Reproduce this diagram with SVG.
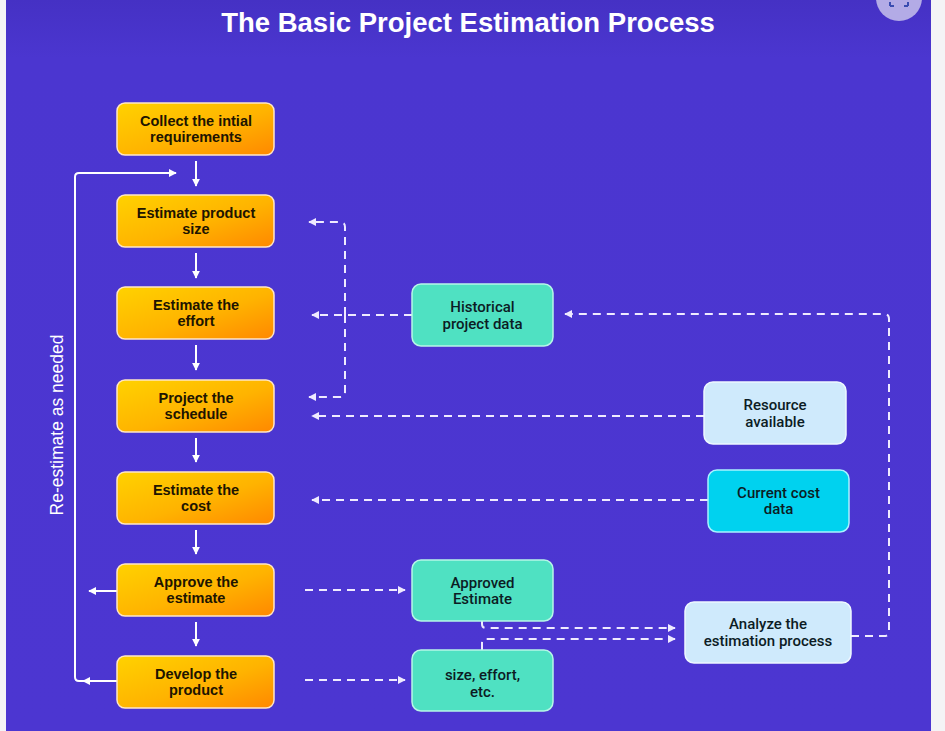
<svg xmlns="http://www.w3.org/2000/svg" width="945" height="731" viewBox="0 0 945 731">
<defs>
<linearGradient id="bg" x1="0" y1="0" x2="0" y2="1">
<stop offset="0" stop-color="#4531c4"/>
<stop offset="0.08" stop-color="#4b36d0"/>
<stop offset="1" stop-color="#4c36d1"/>
</linearGradient>
<linearGradient id="org" x1="0" y1="0" x2="1" y2="1">
<stop offset="0" stop-color="#ffd200"/>
<stop offset="0.55" stop-color="#ffb300"/>
<stop offset="1" stop-color="#ff8800"/>
</linearGradient>
<marker id="sa" viewBox="0 0 10 10" refX="9" refY="5" markerWidth="8" markerHeight="8" markerUnits="userSpaceOnUse" orient="auto">
<path d="M0,0 L10,5 L0,10 Z" fill="#ffffff"/>
</marker>
<marker id="da" viewBox="0 0 10 10" refX="9" refY="5" markerWidth="8" markerHeight="8" markerUnits="userSpaceOnUse" orient="auto">
<path d="M0,0 L10,5 L0,10 Z" fill="#efeaff"/>
</marker>
<style>
.ob{fill:url(#org);stroke:#ffe6c6;stroke-width:1.5}
.gb{fill:#4fe1c2;stroke:#b6f6e7;stroke-width:1.5}
.lb{fill:#cfeafc;stroke:#eef8ff;stroke-width:1.5}
.cb{fill:#00d2ef;stroke:#a8f2ff;stroke-width:1.5}
.ot{font-family:"Liberation Sans",Arial,sans-serif;font-weight:bold;font-size:14.5px;fill:#201400;text-anchor:middle}
.rt{font-family:Roboto,"Liberation Sans",sans-serif;font-weight:500;font-size:15px;fill:#0c1c24;text-anchor:middle}
.sl{fill:none;stroke:#ffffff;stroke-width:2}
.dl{fill:none;stroke:#efeaff;stroke-width:2;stroke-dasharray:8 6}
</style>
</defs>
<rect x="0" y="0" width="945" height="731" fill="#f4f4f6"/>
<rect x="6" y="0" width="925" height="731" fill="url(#bg)"/>
<g id="corner-button">
<circle cx="899" cy="-2" r="23" fill="#b3abe6"/>
<path d="M890,6 v-4 M890,6 h4 M908,6 v-4 M908,6 h-4" stroke="#3a4cb0" stroke-width="2" fill="none"/>
</g>
<text x="468" y="32" font-family="'Liberation Sans',Arial,sans-serif" font-weight="bold" font-size="27.5" fill="#ffffff" text-anchor="middle">The Basic Project Estimation Process</text>
<text transform="translate(63,425) rotate(-90)" font-family="'Liberation Sans',Arial,sans-serif" font-size="17.5" fill="#ffffff" text-anchor="middle">Re-estimate as needed</text>

<g id="connectors">
<path class="sl" d="M196,161 V186" marker-end="url(#sa)"/>
<path class="sl" d="M196,253 V278" marker-end="url(#sa)"/>
<path class="sl" d="M196,345 V370" marker-end="url(#sa)"/>
<path class="sl" d="M196,438 V462" marker-end="url(#sa)"/>
<path class="sl" d="M196,530 V554" marker-end="url(#sa)"/>
<path class="sl" d="M196,622 V646" marker-end="url(#sa)"/>
<path class="sl" d="M117,591 H89" marker-end="url(#sa)"/>
<path class="sl" d="M117,681 H83" marker-end="url(#sa)"/>
<path class="sl" d="M84,681 H79 Q75,681 75,677 V177 Q75,173 79,173 H176" marker-end="url(#sa)"/>
<path class="dl" d="M412,315 H312" marker-end="url(#da)"/>
<path class="dl" d="M345,315 V227 Q345,222 340,222 H309" marker-end="url(#da)"/>
<path class="dl" d="M345,315 V392 Q345,397 340,397 H309" marker-end="url(#da)"/>
<path class="dl" d="M704,416 H312" marker-end="url(#da)"/>
<path class="dl" d="M708,500 H312" marker-end="url(#da)"/>
<path class="dl" d="M851,636 H884 Q889,636 889,631 V319 Q889,314 884,314 H565" marker-end="url(#da)"/>
<path class="dl" d="M305,590 H405" marker-end="url(#da)"/>
<path class="dl" d="M305,680 H405" marker-end="url(#da)"/>
<path class="dl" d="M482,621 V624 Q482,628 486,628 H675" marker-end="url(#da)"/>
<path class="dl" d="M482,650 V643 Q482,639 486,639 H675" marker-end="url(#da)"/>
</g>

<g id="n1"><rect class="ob" x="117" y="103" width="157" height="52" rx="8"/><text class="ot" x="196" y="125.5">Collect the intial</text><text class="ot" x="196" y="141.5">requirements</text></g>
<g id="n2"><rect class="ob" x="117" y="195" width="157" height="52" rx="8"/><text class="ot" x="196" y="217.5">Estimate product</text><text class="ot" x="196" y="233.5">size</text></g>
<g id="n3"><rect class="ob" x="117" y="287" width="157" height="52" rx="8"/><text class="ot" x="196" y="309.5">Estimate the</text><text class="ot" x="196" y="325.5">effort</text></g>
<g id="n4"><rect class="ob" x="117" y="380" width="157" height="52" rx="8"/><text class="ot" x="196" y="402.5">Project the</text><text class="ot" x="196" y="418.5">schedule</text></g>
<g id="n5"><rect class="ob" x="117" y="472" width="157" height="52" rx="8"/><text class="ot" x="196" y="494.5">Estimate the</text><text class="ot" x="196" y="510.5">cost</text></g>
<g id="n6"><rect class="ob" x="117" y="564" width="157" height="52" rx="8"/><text class="ot" x="196" y="586.5">Approve the</text><text class="ot" x="196" y="602.5">estimate</text></g>
<g id="n7"><rect class="ob" x="117" y="656" width="157" height="52" rx="8"/><text class="ot" x="196" y="678.5">Develop the</text><text class="ot" x="196" y="694.5">product</text></g>

<g id="historical"><rect class="gb" x="412" y="284" width="141" height="62" rx="9"/><text class="rt" x="482.5" y="312">Historical</text><text class="rt" x="482.5" y="328.5">project data</text></g>
<g id="resource"><rect class="lb" x="704" y="382" width="142" height="62" rx="9"/><text class="rt" x="775" y="410">Resource</text><text class="rt" x="775" y="427">available</text></g>
<g id="cost"><rect class="cb" x="708" y="470" width="141" height="62" rx="9"/><text class="rt" x="778.5" y="497.5">Current cost</text><text class="rt" x="778.5" y="514">data</text></g>
<g id="approved"><rect class="gb" x="412" y="560" width="141" height="61" rx="9"/><text class="rt" x="482.5" y="587.5">Approved</text><text class="rt" x="482.5" y="604">Estimate</text></g>
<g id="size"><rect class="gb" x="412" y="650" width="141" height="61" rx="9"/><text class="rt" x="482.5" y="680">size, effort,</text><text class="rt" x="482.5" y="697">etc.</text></g>
<g id="analyze"><rect class="lb" x="685" y="602" width="166" height="61" rx="9"/><text class="rt" x="768" y="629">Analyze the</text><text class="rt" x="768" y="646">estimation process</text></g>
</svg>
